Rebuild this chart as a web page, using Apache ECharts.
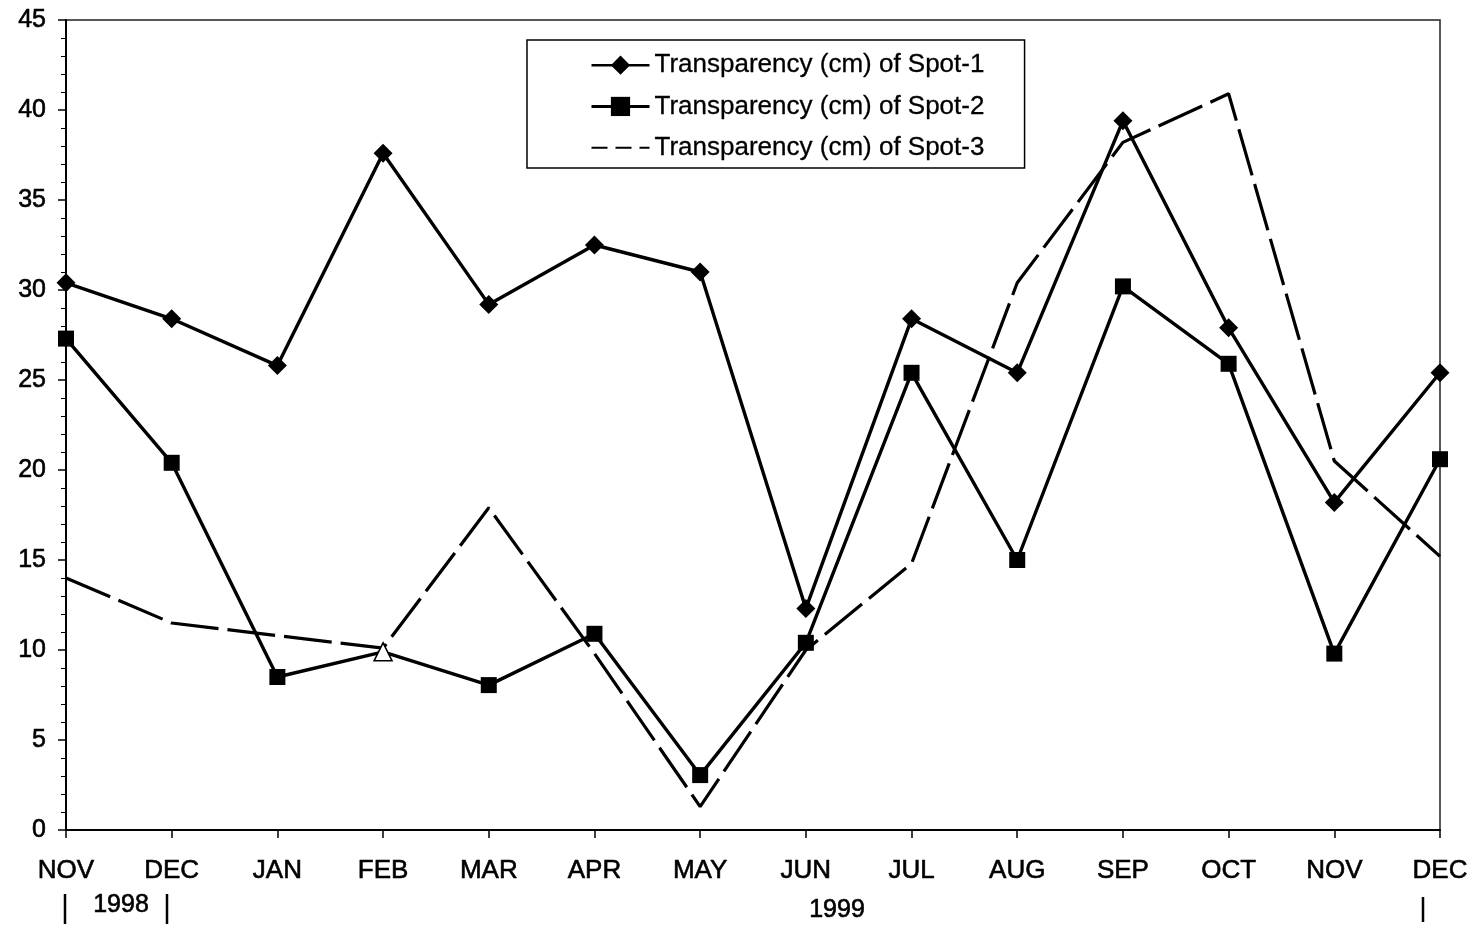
<!DOCTYPE html>
<html>
<head>
<meta charset="utf-8">
<script src="https://cdn.jsdelivr.net/npm/echarts@6/dist/echarts.min.js"></script>
<style>
html,body{margin:0;padding:0;background:#fff;}
#c{width:1473px;height:927px;}
</style>
</head>
<body>
<div id="c"></div>
<script>
const months = ['NOV','DEC','JAN','FEB','MAR','APR','MAY','JUN','JUL','AUG','SEP','OCT','NOV','DEC'];
const spot1 = [30.4, 28.4, 25.8, 37.6, 29.2, 32.5, 31.0, 12.3, 28.4, 25.4, 39.4, 27.9, 18.2, 25.4];
const spot2 = [27.3, 20.4, 8.5, 9.9, 8.05, 10.9, 3.05, 10.4, 25.4, 15.0, 30.2, 25.9, 9.8, 20.6];
const spot3 = [14.0, 11.5, 10.8, 10.1, 17.9, 9.8, 1.3, 10.0, 14.8, 30.4, 38.2, 40.9, 20.5, 15.2];
const seriesNames = ['Transparency (cm) of Spot-1','Transparency (cm) of Spot-2','Transparency (cm) of Spot-3'];
const yTicks = {min: 0, max: 45, interval: 5};
const yearLabels = ['1998', '1999'];

const chart = echarts.init(document.getElementById('c'), null, {renderer: 'canvas'});
const font = 'Liberation Sans, Arial, sans-serif';
const thick = {textBorderColor: '#000', textBorderWidth: 0.6};

const spot2Data = spot2.map((v, i) => i === 3
  ? {value: v, symbol: 'triangle', symbolSize: 18, itemStyle: {color: '#fff', borderColor: '#000', borderWidth: 1.5}}
  : v);

const bar = (x, y1, y2) => ({type: 'line', shape: {x1: x, y1: y1, x2: x, y2: y2}, style: {stroke: '#000', lineWidth: 2.5}});
const yearText = (x, y, t) => ({type: 'text', x: x, y: y, style: {text: t, font: '25px ' + font, fill: '#000', stroke: '#000', lineWidth: 0.6, align: 'center', verticalAlign: 'middle'}});

chart.setOption({
  backgroundColor: '#fff',
  animation: false,
  grid: {left: 66, right: 33, top: 20, bottom: 97, show: true, borderColor: '#222', borderWidth: 1.5, backgroundColor: 'transparent'},
  legend: {
    orient: 'vertical',
    left: 527, top: 40,
    padding: [12, 40, 7, 63],
    itemGap: 15,
    itemWidth: 58, itemHeight: 24,
    borderColor: '#000', borderWidth: 1.5,
    textStyle: {fontFamily: font, fontSize: 26, color: '#000', textBorderColor: '#000', textBorderWidth: 0.3},
    data: [
      {name: seriesNames[0], lineStyle: {width: 2.5}},
      {name: seriesNames[1], lineStyle: {width: 3}},
      {name: seriesNames[2], itemStyle: {opacity: 0}, lineStyle: {type: [16, 8], width: 2}}
    ]
  },
  xAxis: {
    type: 'category',
    data: months,
    boundaryGap: false,
    axisLine: {lineStyle: {color: '#000', width: 2}},
    axisTick: {show: true, alignWithLabel: true, length: 8, lineStyle: {color: '#000', width: 1.5}},
    axisLabel: Object.assign({color: '#000', fontFamily: font, fontSize: 26, margin: 28, interval: 0}, thick),
    splitLine: {show: false}
  },
  yAxis: {
    type: 'value',
    min: yTicks.min, max: yTicks.max, interval: yTicks.interval,
    axisLine: {show: true, lineStyle: {color: '#000', width: 2}},
    axisTick: {show: true, length: 8, lineStyle: {color: '#000', width: 1.5}},
    minorTick: {show: true, splitNumber: 5, length: 5, lineStyle: {color: '#000', width: 1}},
    axisLabel: Object.assign({color: '#000', fontFamily: font, fontSize: 25, margin: 20}, thick),
    splitLine: {show: false}
  },
  series: [
    {
      name: seriesNames[0], type: 'line', data: spot1,
      symbol: 'diamond', symbolSize: 19,
      itemStyle: {color: '#000'},
      lineStyle: {color: '#000', width: 3.4}
    },
    {
      name: seriesNames[1], type: 'line', data: spot2Data,
      symbol: 'rect', symbolSize: 16,
      itemStyle: {color: '#000'},
      lineStyle: {color: '#000', width: 3.4}
    },
    {
      name: seriesNames[2], type: 'line', data: spot3,
      symbol: 'circle', symbolSize: 0, showSymbol: false,
      itemStyle: {color: '#000'},
      lineStyle: {color: '#000', width: 3.2, type: [48, 9]},
      z: 1
    }
  ],
  graphic: [
    bar(65, 894, 924),
    yearText(121, 905, yearLabels[0]),
    bar(167, 894, 924),
    yearText(837, 910, yearLabels[1]),
    bar(1423, 897, 922)
  ]
});
</script>
</body>
</html>
